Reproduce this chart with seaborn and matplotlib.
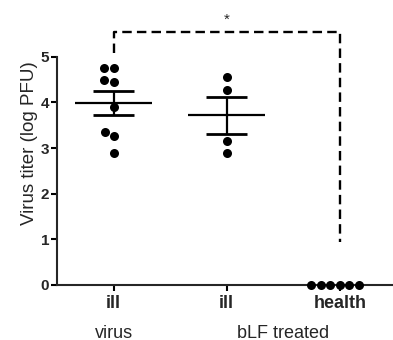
import numpy as np
import pandas as pd
import matplotlib
matplotlib.use("Agg")
import matplotlib.pyplot as plt
import seaborn as sns

# values (log PFU)
virus_ill = [4.75, 4.75, 4.5, 4.45, 3.9, 3.35, 3.27, 2.9]
blf_ill = [4.56, 4.27, 3.15, 2.9]
blf_health = [0, 0, 0, 0, 0, 0]

groups = ["virus ill", "bLF ill", "bLF health"]
tick_labels = ["ill", "ill", "health"]
treatments = ["virus", "bLF treated"]
treatment_pos = [0, 1.5]

# significance bracket between group 0 and group 2
bracket_top = 5.55
bracket_left_end = 5.08
bracket_right_end = 0.95
star_y = 5.82

data = pd.DataFrame({
    "group": [groups[0]] * len(virus_ill) + [groups[1]] * len(blf_ill) + [groups[2]] * len(blf_health),
    "titer": virus_ill + blf_ill + blf_health,
})

sns.set_style("ticks")
plt.rcParams["font.family"] = ["Liberation Sans", "DejaVu Sans"]

fig = plt.figure(figsize=(3.93, 3.40), dpi=100)
ax = fig.add_axes([0.145, 0.162, 0.855, 0.832])

sns.swarmplot(data=data, x="group", y="titer", order=groups, color="black",
              size=6.5, ax=ax)
for coll in ax.collections:
    coll.set_clip_on(False)

# mean +/- SEM
stats = data.groupby("group")["titer"].agg(["mean", "sem"]).reindex(groups)
for i, (g, row) in enumerate(stats.iterrows()):
    if row["mean"] == 0:
        continue
    ax.hlines(row["mean"], i - 0.34, i + 0.34, color="black", lw=1.6)
    ax.hlines([row["mean"] - row["sem"], row["mean"] + row["sem"]],
              i - 0.18, i + 0.18, color="black", lw=2.0)
    ax.vlines(i, row["mean"] - row["sem"], row["mean"] + row["sem"],
              color="black", lw=1.6)

# dashed bracket
ax.plot([0, 0, 2, 2], [bracket_left_end, bracket_top, bracket_top, bracket_right_end],
        color="black", lw=1.7, linestyle=(0, (4, 2.2)), clip_on=False)
ax.text(1, star_y, "*", ha="center", va="center", fontsize=11)

ax.set_xlim(-0.5, 2.47)
ax.set_ylim(0, 6.2)
ax.set_yticks([0, 1, 2, 3, 4, 5])
ax.set_yticklabels([0, 1, 2, 3, 4, 5], fontweight="bold", fontsize=11)
ax.set_xticks(range(len(groups)))
ax.set_xticklabels(tick_labels, fontweight="bold", fontsize=13)
ax.set_xlabel("")
ax.set_ylabel("Virus titer (log PFU)", fontsize=13.5, labelpad=2)

for name in ["top", "right"]:
    ax.spines[name].set_visible(False)
ax.spines["left"].set_bounds(0, 5)
ax.spines["left"].set_linewidth(1.5)
ax.spines["bottom"].set_linewidth(1.5)
ax.tick_params(axis="both", width=1.5, length=4, color="black")
ax.tick_params(axis="x", pad=3)
ax.tick_params(axis="y", pad=1.5)

for x, name in zip(treatment_pos, treatments):
    ax.text(x, -0.17, name, transform=ax.get_xaxis_transform(),
            ha="center", va="center", fontsize=13)

fig.savefig("out.png", dpi=100)
